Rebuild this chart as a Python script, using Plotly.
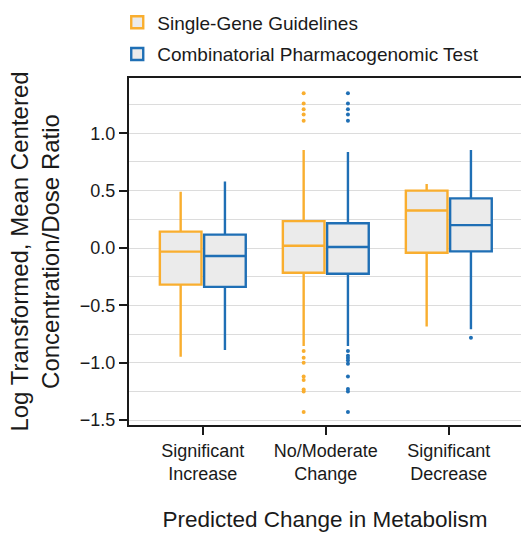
import plotly.graph_objects as go

categories = ["Significant<br>Increase", "No/Moderate<br>Change", "Significant<br>Decrease"]

# Single-Gene Guidelines box statistics
sg_q1 = [-0.319, -0.216, -0.041]
sg_median = [-0.032, 0.020, 0.327]
sg_q3 = [0.143, 0.234, 0.500]
sg_low = [-0.947, -0.854, -0.684]
sg_high = [0.490, 0.854, 0.558]
sg_out_cat = [1] * 13
sg_out_val = [1.348, 1.26, 1.21, 1.164, 1.11, -0.897, -0.956, -1.0, -1.12, -1.15, -1.234, -1.25, -1.43]

# Combinatorial Pharmacogenomic Test box statistics
cpt_q1 = [-0.339, -0.225, -0.029]
cpt_median = [-0.070, 0.009, 0.199]
cpt_q3 = [0.117, 0.216, 0.433]
cpt_low = [-0.889, -0.854, -0.708]
cpt_high = [0.579, 0.836, 0.854]
cpt_out_cat = [1] * 14 + [2]
cpt_out_val = [1.348, 1.26, 1.21, 1.164, 1.11, -0.897, -0.94, -0.96, -0.98, -1.01, -1.12, -1.23, -1.25, -1.43, -0.783]

ORANGE = "#F9AE2F"
BLUE = "#1F6FB5"
FILL = "#EBEBEB"
FONT = "Liberation Sans, Arial, sans-serif"
INK = "#1a1a1a"

fig = go.Figure()
for name, col, q1, med, q3, lo, hi, oc, ov, grp in [
    ("Single-Gene Guidelines", ORANGE, sg_q1, sg_median, sg_q3, sg_low, sg_high, sg_out_cat, sg_out_val, "a"),
    ("Combinatorial Pharmacogenomic Test", BLUE, cpt_q1, cpt_median, cpt_q3, cpt_low, cpt_high, cpt_out_cat, cpt_out_val, "b"),
]:
    fig.add_trace(go.Box(
        name=name, x=categories,
        q1=q1, median=med, q3=q3, lowerfence=lo, upperfence=hi,
        boxpoints=False,
        line=dict(color=col, width=2.4), fillcolor=FILL,
        legendgroup=grp, offsetgroup=grp, whiskerwidth=0,
    ))
    fig.add_trace(go.Box(
        name=name, x=[categories[i] for i in oc], y=ov,
        boxpoints="all", pointpos=0, jitter=0,
        marker=dict(color=col, size=4, line=dict(width=0)),
        line=dict(color="rgba(0,0,0,0)", width=0), fillcolor="rgba(0,0,0,0)",
        legendgroup=grp, offsetgroup=grp, showlegend=False, hoverinfo="skip",
    ))

fig.update_layout(
    width=521, height=533,
    margin=dict(l=129, r=0, t=78, b=108, autoexpand=False),
    paper_bgcolor="white", plot_bgcolor="white",
    font=dict(family=FONT, color=INK, size=18),
    boxmode="group", boxgap=0.28, boxgroupgap=0.06,
    legend=dict(x=-0.030, y=1.215, xanchor="left", yanchor="top",
                orientation="v", tracegroupgap=4, font=dict(size=19, color=INK),
                bgcolor="rgba(0,0,0,0)"),
    showlegend=True,
)
fig.update_xaxes(
    type="category", categoryorder="array", categoryarray=categories, range=[-0.6, 2.587],
    showline=True, linecolor=INK, linewidth=2, mirror=True,
    ticks="outside", ticklen=8, tickwidth=2, tickcolor=INK,
    showgrid=False, tickfont=dict(size=18, color=INK), automargin=False,
    title=dict(text="Predicted Change in Metabolism", font=dict(size=22.5, color=INK), standoff=28),
)
fig.update_yaxes(
    range=[-1.543, 1.482], tickmode="array",
    tickvals=[-1.5, -1.0, -0.5, 0.0, 0.5, 1.0],
    ticktext=["\u22121.5", "\u22121.0", "\u22120.5", "0.0", "0.5", "1.0"],
    showline=True, linecolor=INK, linewidth=2, mirror=True,
    ticks="outside", ticklen=8, tickwidth=2, tickcolor=INK,
    showgrid=True, gridcolor="#DCDCDC", gridwidth=1,
    minor=dict(tickvals=[-1.25, -0.75, -0.25, 0.25, 0.75, 1.25], showgrid=True, gridcolor="#DCDCDC", gridwidth=1, ticks=""),
    zeroline=False, tickfont=dict(size=18, color=INK), automargin=False,
    title=dict(text="Log Transformed, Mean Centered<br>Concentration/Dose Ratio", font=dict(size=24, color=INK), standoff=13),
)

fig.write_html(
    "out.html",
    config={"displayModeBar": False},
    post_script="document.body.style.margin='0';document.body.style.overflow='hidden';",
)
